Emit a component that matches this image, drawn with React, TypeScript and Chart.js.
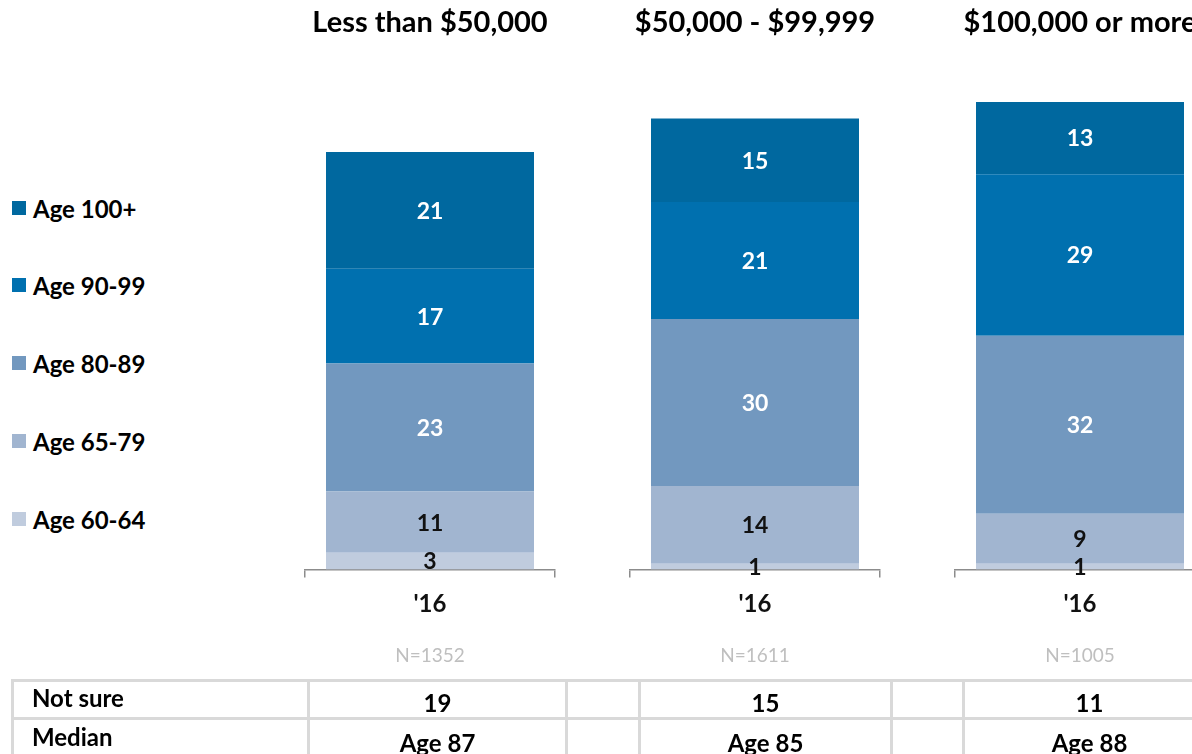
import React, { useEffect, useRef } from 'react';
import { Chart, registerables } from 'chart.js';

Chart.register(...registerables);

const FONT = 'Lato, "Open Sans", sans-serif';

const categories = ["'16"];
const panelTitles = ['Less than $50,000', '$50,000 - $99,999', '$100,000 or more'];
const sampleSizes = ['N=1352', 'N=1611', 'N=1005'];

const seriesNames = ['Age 60-64', 'Age 65-79', 'Age 80-89', 'Age 90-99', 'Age 100+'];
const seriesColors = ['#C0CCDE', '#A1B5D0', '#7298BF', '#0070AF', '#00689F'];
const labelColors = ['#111111', '#111111', '#FFFFFF', '#FFFFFF', '#FFFFFF'];

const age60to64 = [3, 1, 1];
const age65to79 = [11, 14, 9];
const age80to89 = [23, 30, 32];
const age90to99 = [17, 21, 29];
const age100plus = [21, 15, 13];
const seriesValues = [age60to64, age65to79, age80to89, age90to99, age100plus];

const notSure = [19, 15, 11];
const medianAge = ['Age 87', 'Age 85', 'Age 88'];
const tableRowLabels = ['Not sure', 'Median'];

const segmentLabels = {
  id: 'segmentLabels',
  afterDatasetsDraw(chart: any) {
    const ctx = chart.ctx;
    ctx.save();
    ctx.font = `bold 23px ${FONT}`;
    ctx.textAlign = 'center';
    ctx.textBaseline = 'middle';
    chart.data.datasets.forEach((ds: any, di: number) => {
      const meta = chart.getDatasetMeta(di);
      meta.data.forEach((el: any, i: number) => {
        const v = ds.data[i];
        ctx.fillStyle = ds.labelColor;
        ctx.fillText(String(v), el.x, (el.y + el.base) / 2 + 1);
      });
    });
    ctx.restore();
  },
};

function Panel({ index }: { index: number }) {
  const ref = useRef<HTMLCanvasElement>(null);
  useEffect(() => {
    const chart = new Chart(ref.current as HTMLCanvasElement, {
      type: 'bar',
      data: {
        labels: categories,
        datasets: seriesNames.map((name, s) => ({
          label: name,
          data: [seriesValues[s][index]],
          backgroundColor: seriesColors[s],
          borderWidth: 0,
          barPercentage: 0.832,
          categoryPercentage: 1,
          labelColor: labelColors[s],
          xAxisID: 'x',
        })) as any,
      },
      options: {
        animation: false,
        responsive: true,
        maintainAspectRatio: false,
        layout: { padding: { left: 37, right: 38, top: 0, bottom: 0 } },
        plugins: {
          legend: { display: false },
          tooltip: { enabled: false },
          title: {
            display: true,
            text: panelTitles[index],
            color: '#000000',
            font: { family: FONT, size: 29, weight: 'bold', lineHeight: 1.2 },
            padding: { top: 5, bottom: 28.7 },
          },
        },
        scales: {
          x: {
            type: 'category',
            stacked: true,
            offset: true,
            position: 'bottom',
            grid: {
              display: true,
              drawOnChartArea: false,
              drawTicks: true,
              tickLength: 8,
              offset: true,
              color: '#8C8C8C',
              lineWidth: 1.5,
            },
            border: { display: true, color: '#8C8C8C', width: 1.5 },
            ticks: {
              color: '#111111',
              font: { family: FONT, size: 24, weight: 'bold' },
              padding: 12,
            },
          },
          x2: {
            type: 'category',
            labels: [sampleSizes[index]],
            position: 'bottom',
            offset: true,
            grid: { display: false, drawTicks: false },
            border: { display: false },
            ticks: {
              color: '#BFBFBF',
              font: { family: FONT, size: 19 },
              padding: 14,
            },
          },
          y: {
            stacked: true,
            display: false,
            min: 0,
            max: 90,
          },
        },
      } as any,
      plugins: [segmentLabels],
    });
    return () => chart.destroy();
  }, [index]);
  return (
    <div style={{ position: 'absolute', left: 268 + index * 325, top: 0, width: 325, height: 681 }}>
      <canvas ref={ref} />
    </div>
  );
}

const legendTops = [208, 285, 363, 441, 519];

export default function App() {
  const cellBase: React.CSSProperties = {
    border: '3px solid #D9D9D9',
    fontFamily: FONT,
    fontWeight: 'bold',
    fontSize: 24,
    color: '#000',
    padding: 0,
    overflow: 'hidden',
    whiteSpace: 'nowrap',
    lineHeight: '28px',
  };
  const colWidths = [296, 258, 73, 252, 72, 252];
  const rows = [notSure.map(String), medianAge];
  return (
    <div style={{ position: 'fixed', left: 0, top: 0, width: 1192, height: 754, overflow: 'hidden', background: '#fff' }}>
      {seriesNames
        .map((name, s) => ({ name, color: seriesColors[s] }))
        .reverse()
        .map((item, k) => (
          <div
            key={item.name}
            style={{
              position: 'absolute',
              left: 12,
              top: legendTops[k] - 15,
              height: 30,
              display: 'flex',
              alignItems: 'center',
              fontFamily: FONT,
              fontWeight: 'bold',
              fontSize: 24,
              color: '#000',
              whiteSpace: 'nowrap',
            }}
          >
            <span style={{ display: 'inline-block', width: 14, height: 14, background: item.color, marginRight: 7 }} />
            {item.name}
          </div>
        ))}
      {panelTitles.map((_, i) => (
        <Panel key={i} index={i} />
      ))}
      <table
        style={{
          position: 'absolute',
          left: 11,
          top: 679,
          borderCollapse: 'collapse',
          tableLayout: 'fixed',
          width: colWidths.reduce((a, b) => a + b, 0),
        }}
      >
        <colgroup>
          {colWidths.map((w, i) => (
            <col key={i} style={{ width: w }} />
          ))}
        </colgroup>
        <tbody>
          {rows.map((vals, r) => (
            <tr key={r} style={{ height: r === 0 ? 37 : 40 }}>
              <td style={{ ...cellBase, paddingLeft: 18, verticalAlign: 'top', paddingTop: r === 0 ? 2 : 3 }}>{tableRowLabels[r]}</td>
              {vals.map((v, i) => (
                <React.Fragment key={i}>
                  <td style={{ ...cellBase, textAlign: 'center', verticalAlign: 'top', paddingTop: r === 0 ? 7 : 9 }}>{v}</td>
                  {i < vals.length - 1 ? <td style={cellBase} /> : null}
                </React.Fragment>
              ))}
            </tr>
          ))}
        </tbody>
      </table>
    </div>
  );
}
